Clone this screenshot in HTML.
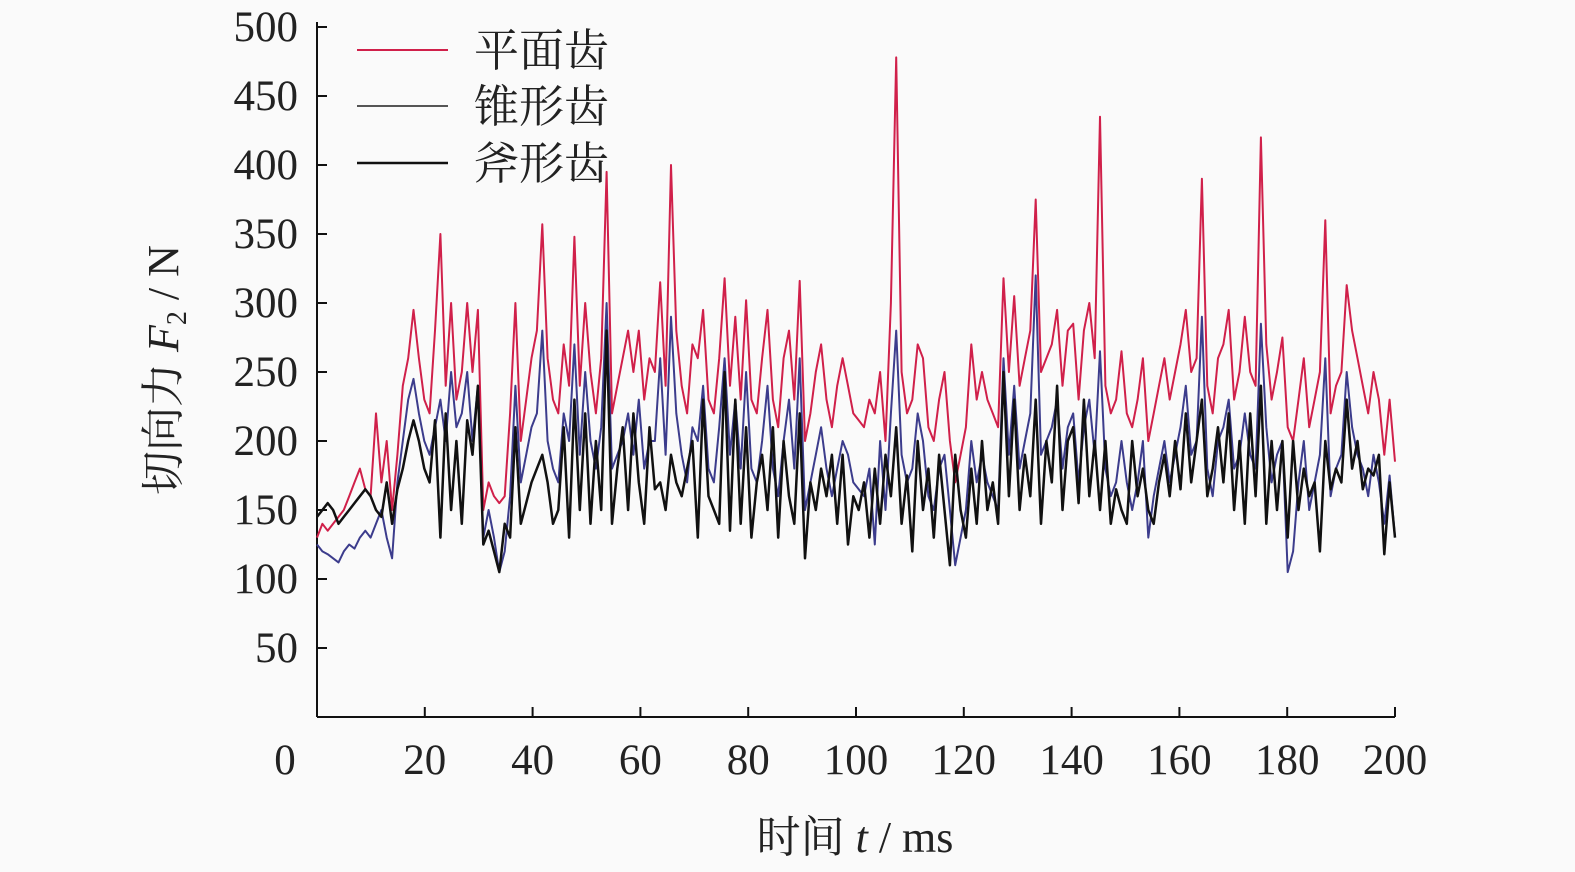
<!DOCTYPE html>
<html><head><meta charset="utf-8"><style>
html,body{margin:0;padding:0;background:#fafafa;}
svg{display:block;}
text{font-family:"Liberation Serif","Noto Serif CJK SC",serif;fill:#222;}
</style></head><body>
<svg id="chart" width="1575" height="872" xmlns="http://www.w3.org/2000/svg">
<g id="axes"></g>
<g id="series"></g>
<g id="legend">
  <line x1="357" y1="50" x2="448" y2="50" stroke="#d0204a" stroke-width="2"/>
  <text x="474" y="66" font-size="45">平面齿</text>
  <line x1="357" y1="106" x2="448" y2="106" stroke="#555" stroke-width="2"/>
  <text x="474" y="122" font-size="45">锥形齿</text>
  <line x1="357" y1="163" x2="448" y2="163" stroke="#111" stroke-width="2.5"/>
  <text x="474" y="179" font-size="45">斧形齿</text>
</g>
<text x="855" y="852" font-size="44" text-anchor="middle">时间 <tspan font-style="italic">t</tspan> / ms</text>
<text transform="translate(178,370) rotate(-90)" font-size="44" text-anchor="middle">切向力 <tspan font-style="italic">F</tspan><tspan font-size="28" dy="8">2</tspan><tspan dy="-8"> / N</tspan></text>
</svg>
<script>
const xTicks=[0,20,40,60,80,100,120,140,160,180,200];
const yTicks=[50,100,150,200,250,300,350,400,450,500];
const flatTooth=[130,140,135,140,145,150,160,170,180,165,160,
220,170,200,150,190,240,260,295,260,230,
220,280,350,240,300,230,250,300,250,295,
150,170,160,155,160,220,300,200,230,260,
280,357,260,230,220,270,240,348,240,300,
250,220,260,395,220,240,260,280,250,280,
230,260,250,315,240,400,280,240,220,270,
260,295,230,220,260,318,240,290,230,302,
230,220,260,295,230,210,260,280,230,316,
200,220,250,270,230,210,240,260,240,220,
215,210,230,220,250,200,300,478,250,220,
230,270,260,210,200,230,250,200,170,190,
210,270,230,250,230,220,210,318,250,305,
240,260,280,375,250,260,270,295,240,280,
285,230,280,300,260,435,240,220,230,265,
220,210,230,260,200,220,240,260,230,250,
270,295,250,260,390,240,220,260,270,295,
230,250,290,250,240,420,270,230,250,275,
210,200,230,260,210,230,250,360,220,240,
250,313,280,260,240,220,250,230,190,230,185];
const coneTooth=[125,120,118,115,112,120,125,122,130,135,130,
140,150,130,115,170,200,230,245,220,200,
190,210,230,200,250,210,220,250,200,240,
130,150,130,105,120,160,240,170,190,210,
220,280,200,180,170,220,200,270,190,250,
200,180,210,300,180,190,200,220,190,230,
180,200,200,260,190,290,220,190,170,210,
200,240,180,170,210,260,190,230,180,250,
180,170,200,240,180,160,200,230,180,260,
150,170,190,210,180,160,180,200,190,170,
165,160,180,125,200,150,220,280,190,170,
180,220,200,160,150,180,190,150,110,130,
150,200,170,190,170,160,150,260,190,240,
180,200,220,320,190,200,210,230,180,210,
220,170,210,230,190,265,180,160,170,200,
170,150,170,200,130,160,180,200,170,190,
210,240,190,200,290,180,160,200,210,230,
180,190,220,190,180,285,210,170,190,200,
105,120,170,200,150,170,190,260,160,180,
190,250,210,190,180,160,190,170,140,175,130];
const axeTooth=[145,150,155,150,140,145,150,155,160,165,160,
150,145,170,140,165,180,200,215,200,180,
170,215,130,220,150,200,140,215,190,240,
125,135,120,105,140,130,210,140,155,170,
180,190,170,140,150,210,130,230,150,220,
140,200,150,280,140,180,210,150,220,170,
140,210,165,170,150,190,170,160,180,200,
130,230,160,150,140,250,135,230,140,210,
130,170,190,150,210,130,200,160,140,220,
115,170,150,180,160,190,140,190,125,160,
150,170,130,180,140,190,160,210,140,175,
120,200,150,180,130,190,150,110,190,150,
130,180,140,200,150,170,140,250,160,230,
150,190,160,230,140,200,170,240,150,200,
210,155,230,160,200,150,200,140,165,150,
140,200,160,180,150,140,170,190,160,200,
165,220,170,200,230,160,180,210,170,220,
150,200,140,220,160,240,140,200,150,200,
130,200,150,180,160,170,120,200,165,180,
170,230,180,200,165,180,175,190,118,170,130];
const NS="http://www.w3.org/2000/svg";
const X0=317,X1=1395,Y0=717,YTOP=27;
function sx(t){return X0+(t/200)*(X1-X0);}
function sy(v){return Y0-(v/500)*(Y0-YTOP);}
const axes=document.getElementById('axes');
function mk(tag,attrs,parent){const e=document.createElementNS(NS,tag);for(const k in attrs)e.setAttribute(k,attrs[k]);parent.appendChild(e);return e;}
let yl=mk('line',{x1:X0,y1:22,x2:X0,y2:Y0,stroke:'#111','stroke-width':2},axes);


let xl=mk('line',{x1:X0,y1:Y0,x2:X1,y2:Y0,stroke:'#111','stroke-width':2},axes);


yTicks.forEach(v=>{
  let tk=mk('line',{x1:X0,y1:sy(v),x2:X0+10,y2:sy(v),stroke:'#111','stroke-width':2},axes);
  
  
  let tx=mk('text',{x:298,y:sy(v)+14,'font-size':43,'text-anchor':'end'},axes);
  tx.textContent=v;
  
  
});
xTicks.forEach(t=>{
  if(t>0){
    let tk=mk('line',{x1:sx(t),y1:Y0,x2:sx(t),y2:Y0-10,stroke:'#111','stroke-width':2},axes);
    
    
  }
  let tx=mk('text',{x:t===0?285:sx(t),y:774,'font-size':43,'text-anchor':'middle'},axes);
  tx.textContent=t;
  
  
});
const ser=document.getElementById('series');
function draw(arr,color,w,name){
  const step=200/(arr.length-1);
  const d=arr.map((v,i)=>(i?'L':'M')+sx(i*step).toFixed(1)+','+sy(v).toFixed(1)).join('');
  let p=mk('path',{d:d,fill:'none',stroke:color,'stroke-width':w,'stroke-linejoin':'round'},ser);
  
  
}
draw(flatTooth,'#d0204a',2,'series-flat-tooth');
draw(coneTooth,'#3c3c8c',2,'series-cone-tooth');
draw(axeTooth,'#111',2.5,'series-axe-tooth');
</script>
</body></html>
